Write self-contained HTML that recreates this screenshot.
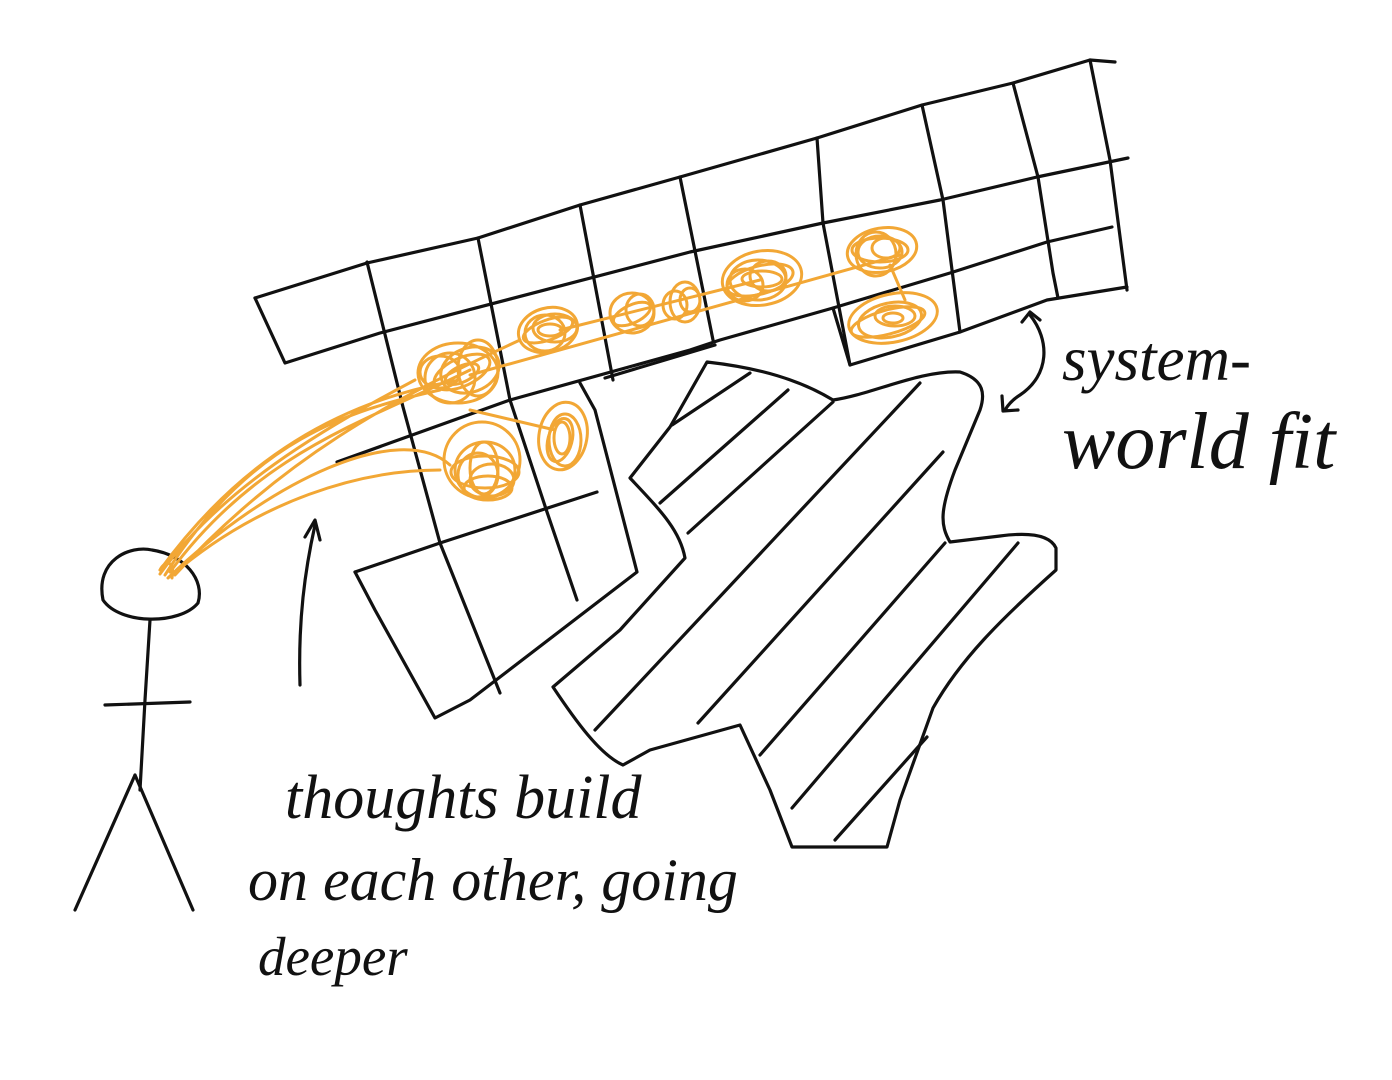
<!DOCTYPE html>
<html><head><meta charset="utf-8"><style>
html,body{margin:0;padding:0;background:#fff;}
svg{display:block}
text{font-family:"Liberation Serif",serif;font-style:italic;fill:#111;}
</style></head><body>
<svg width="1392" height="1080" viewBox="0 0 1392 1080" xmlns="http://www.w3.org/2000/svg">
<g fill="none" stroke="#111" stroke-width="3.2" stroke-linecap="round" stroke-linejoin="round">
<!-- top band -->
<path d="M255,298 L367,263 L478,238 L580,205 L680,177 L817,138 L922,105 L1013,83 L1090,60 L1115,62"/>
<path d="M255,298 L285,363 L380,333 L690,252 L823,223 L940,200 L1037,177 L1128,158"/>
<path d="M337,462 L510,400 L690,350 L720,340 L833,308 L950,273 L1047,242 L1112,227"/>
<path d="M605,378 L715,345"/>
<path d="M833,308 L850,365 L960,332 L1047,300 L1127,287"/>
<!-- verticals -->
<path d="M367,262 L403,407 L440,543 L500,693"/>
<path d="M478,238 L510,400 L547,512 L577,600"/>
<path d="M580,205 L613,380"/>
<path d="M680,177 L713,340"/>
<path d="M817,138 L823,223 L850,365"/>
<path d="M922,105 L943,200 L960,332"/>
<path d="M1013,83 L1038,177 L1053,273 L1058,298"/>
<path d="M1090,60 L1110,160 L1127,290"/>
<!-- lower-left block -->
<path d="M440,543 L597,492"/>
<path d="M355,572 L440,543"/>
<path d="M355,572 L375,610 L435,718 L470,700 L637,572 L595,410 L580,383"/>
<!-- striped blob -->
<path d="M707,362 C760,368 800,380 833,400 C870,395 920,370 960,372 C985,380 985,395 980,410 L955,470 C940,510 940,525 950,542 L1000,536 C1030,532 1050,535 1056,548 L1056,570 C1000,620 960,660 933,708 L900,800 L887,847 L792,847 L770,790 L740,725 L650,750 L623,765 C600,755 575,720 553,687 L620,630 L685,558 C680,530 660,510 630,478 L670,427 Z"/>
<path d="M672,425 L750,373 M660,503 L788,390 M688,533 L833,402 M595,730 L920,383 M698,723 L943,452 M760,755 L945,543 M792,808 L1018,543 M835,840 L927,737"/>
<!-- stick figure -->
<path d="M103,600 C95,560 130,545 152,550 C185,555 205,580 198,603 C180,625 120,625 103,600 Z"/>
<path d="M150,620 L145,700 L140,790"/>
<path d="M105,705 L190,702"/>
<path d="M135,775 L75,910 M135,775 L193,910"/>
<!-- arrow up -->
<path d="M300,685 C298,620 305,570 315,525"/>
<path d="M305,537 L315,520 L320,540"/>
<!-- double arrow -->
<path d="M1030,315 C1050,340 1050,375 1020,395 C1012,400 1008,405 1005,410"/>
<path d="M1022,322 L1030,312 L1040,320"/>
<path d="M1002,396 L1003,411 L1018,410"/>
</g>
<!-- orange -->
<g fill="none" stroke="#f2a735" stroke-width="3" stroke-linecap="round">
<path d="M165,575 C250,440 350,410 440,390 M170,572 C260,450 370,420 470,370 M160,570 C240,460 340,400 460,380 M175,575 C280,460 390,400 520,340 M168,578 C270,480 400,420 450,465 M172,575 C260,500 360,470 440,470 M160,574 C220,490 320,430 415,380"/>
<path d="M470,375 L900,255 M560,330 L760,280 M890,265 L905,300 M470,410 L555,430"/>
<g id="b1"><ellipse cx="458" cy="373" rx="40" ry="30"/><ellipse cx="470" cy="370" rx="30" ry="22" transform="rotate(-20 470 370)"/><ellipse cx="450" cy="378" rx="25" ry="25"/><ellipse cx="478" cy="368" rx="20" ry="28"/><ellipse cx="462" cy="372" rx="30" ry="14" transform="rotate(-25 462 372)"/><ellipse cx="462" cy="374" rx="18" ry="8" transform="rotate(-25 462 374)"/><ellipse cx="440" cy="372" rx="20" ry="16"/></g>
<ellipse cx="548" cy="330" rx="30" ry="22" transform="rotate(-15 548 330)"/><ellipse cx="545" cy="333" rx="20" ry="18"/><ellipse cx="555" cy="328" rx="22" ry="14"/><ellipse cx="548" cy="330" rx="26" ry="10" transform="rotate(-20 548 330)"/><ellipse cx="550" cy="330" rx="12" ry="6"/>
<ellipse cx="632" cy="313" rx="22" ry="20"/><ellipse cx="640" cy="310" rx="14" ry="16"/><ellipse cx="632" cy="314" rx="20" ry="9" transform="rotate(-25 632 314)"/><ellipse cx="685" cy="302" rx="15" ry="20"/><ellipse cx="690" cy="300" rx="10" ry="12"/><ellipse cx="675" cy="305" rx="12" ry="14"/>
<ellipse cx="762" cy="278" rx="40" ry="27" transform="rotate(-10 762 278)"/><ellipse cx="758" cy="280" rx="28" ry="20"/><ellipse cx="768" cy="276" rx="18" ry="15"/><ellipse cx="760" cy="280" rx="34" ry="14" transform="rotate(-15 760 280)"/><ellipse cx="762" cy="279" rx="20" ry="8"/><ellipse cx="745" cy="285" rx="18" ry="16"/>
<ellipse cx="882" cy="250" rx="35" ry="22" transform="rotate(-10 882 250)"/><ellipse cx="880" cy="252" rx="22" ry="16"/><ellipse cx="886" cy="248" rx="14" ry="10"/><ellipse cx="880" cy="250" rx="28" ry="12"/><ellipse cx="876" cy="254" rx="20" ry="22"/>
<ellipse cx="893" cy="318" rx="45" ry="24" transform="rotate(-12 893 318)"/><ellipse cx="890" cy="320" rx="32" ry="17" transform="rotate(-12 890 320)"/><ellipse cx="895" cy="316" rx="20" ry="10"/><ellipse cx="888" cy="322" rx="38" ry="12" transform="rotate(-15 888 322)"/><ellipse cx="893" cy="318" rx="10" ry="5"/>
<ellipse cx="482" cy="460" rx="38" ry="38"/><ellipse cx="485" cy="470" rx="30" ry="28"/><ellipse cx="478" cy="475" rx="20" ry="22"/><ellipse cx="492" cy="480" rx="22" ry="16"/><ellipse cx="485" cy="472" rx="34" ry="16"/><ellipse cx="484" cy="468" rx="14" ry="26"/><ellipse cx="488" cy="488" rx="24" ry="12"/>
<ellipse cx="563" cy="436" rx="24" ry="34" transform="rotate(10 563 436)"/><ellipse cx="565" cy="440" rx="16" ry="26"/><ellipse cx="562" cy="438" rx="8" ry="16"/><ellipse cx="560" cy="440" rx="12" ry="22" transform="rotate(15 560 440)"/>
<path d="M160,570 C165,560 175,560 172,578"/>
</g>
<!-- text -->
<text x="285" y="818" font-size="62">thoughts build</text>
<text x="248" y="900" font-size="60">on each other, going</text>
<text x="258" y="975" font-size="55">deeper</text>
<text x="1062" y="380" font-size="63">system-</text>
<text x="1062" y="468" font-size="80">world fit</text>
</svg>
</body></html>
